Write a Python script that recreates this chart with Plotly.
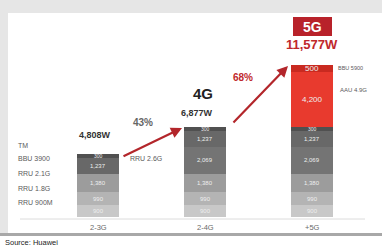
import plotly.graph_objects as go

categories = ["2-3G", "2-4G", "+5G"]
totals = ["4,808W", "6,877W", "11,577W"]
rru900_b = [900, 900, 900]
rru900_a = [990, 990, 990]
rru18 = [1380, 1380, 1380]
rru26 = [0, 2069, 2069]
rru21 = [1237, 1237, 1237]
bbu = [300, 300, 300]
aau = [0, 0, 4200]
bbu5900 = [0, 0, 500]
legend_labels = ["TM", "BBU 3900", "RRU 2.1G", "RRU 1.8G", "RRU 900M"]
growth = ["43%", "68%"]

W, H = 382, 248
BASE = 217
SCALE = 152 / 11577.0
YMAX = BASE / SCALE
xc = [98, 206, 312]
b = 107.0
a = 98.0
XR = [-a / b, (W - a) / b]

def py(p):
    return (BASE - p) / BASE

def px(x):
    return x / W

FONT = "Arial, Liberation Sans, sans-serif"
xs = [0, 1, 2]

series = [
    (rru900_b, "#c8c8c8", 6),
    (rru900_a, "#b4b4b4", 6),
    (rru18, "#9c9c9c", 6),
    (rru26, "#747474", 6),
    (rru21, "#686868", 6),
    (bbu, "#505050", 5),
    (aau, "#e83a2e", 8),
    (bbu5900, "#c92a20", 8),
]

fig = go.Figure()
ann = []
cum = [0, 0, 0]
for vals, col, fs in series:
    fig.add_trace(go.Bar(
        x=xs, y=vals, marker=dict(color=col, line=dict(width=0)),
        width=0.40, hoverinfo="skip", showlegend=False,
    ))
    for i, v in enumerate(vals):
        if v:
            ann.append(dict(x=xs[i], y=cum[i] + v / 2, xref="x", yref="y", text=f"{v:,}",
                            showarrow=False, font=dict(size=fs, color="#eeeeee", family=FONT),
                            xanchor="center", yanchor="middle"))
            cum[i] += v

shapes = [
    dict(type="rect", xref="paper", yref="paper", x0=0, x1=1, y0=py(13), y1=py(0),
         fillcolor="#e6e6e6", line=dict(width=0), layer="below"),
    dict(type="rect", xref="paper", yref="paper", x0=0, x1=px(8), y0=py(233), y1=py(0),
         fillcolor="#e6e6e6", line=dict(width=0), layer="below"),
    dict(type="line", xref="paper", yref="paper", x0=px(20), x1=px(365), y0=py(219), y1=py(219),
         line=dict(color="#dcdcdc", width=1)),
    dict(type="rect", xref="paper", yref="paper", x0=0, x1=1, y0=py(236), y1=py(233),
         fillcolor="#a8a8a8", line=dict(width=0)),
    dict(type="rect", xref="paper", yref="paper", x0=px(293), x1=px(332), y0=py(36), y1=py(17),
         fillcolor="#b8222a", line=dict(width=0)),
]

def txt(x, y, s, size, color, bold=False, anchor="center"):
    ann.append(dict(xref="paper", yref="paper", x=px(x), y=py(y), text=(f"<b>{s}</b>" if bold else s),
                    showarrow=False, xanchor=anchor, yanchor="middle",
                    font=dict(size=size, color=color, family=FONT)))

for lab, yy in zip(legend_labels, [145, 158, 173, 188, 202]):
    txt(16, yy, lab, 7, "#5a5a5a", anchor="left")
txt(128, 158, "RRU 2.6G", 7, "#5a5a5a", anchor="left")
txt(336, 68, "BBU 5900", 5.5, "#5a5a5a", anchor="left")
txt(338, 90, "AAU 4.9G", 6, "#5a5a5a", anchor="left")

for x, c in zip(xc, categories):
    txt(x, 227, c, 7.5, "#6a6a6a")

txt(95, 135, totals[0], 9, "#333333", bold=True)
txt(197, 113, totals[1], 9, "#333333", bold=True)
txt(312, 44, totals[2], 13, "#c0282c", bold=True)
txt(203, 93, "4G", 15, "#222222", bold=True)
txt(312, 27, "5G", 14, "#ffffff", bold=True)
txt(143, 122, growth[0], 10, "#666666", bold=True)
txt(243, 77, growth[1], 10, "#c0282c", bold=True)
txt(3, 242, "Source: Huawei", 7.5, "#222222", anchor="left")

for (hx, hy, tx, ty) in [(182, 128, 122, 157), (288, 66, 232, 124)]:
    ann.append(dict(xref="paper", yref="paper", x=px(hx), y=py(hy), ax=tx - hx, ay=ty - hy,
                    axref="pixel", ayref="pixel", showarrow=True, arrowhead=2, arrowsize=1,
                    arrowwidth=2.2, arrowcolor="#b3262b", text=""))

fig.update_layout(
    width=W, height=H, margin=dict(l=0, r=0, t=0, b=H - BASE),
    barmode="stack", bargap=0, plot_bgcolor="white", paper_bgcolor="white",
    xaxis=dict(range=XR, visible=False, fixedrange=True),
    yaxis=dict(range=[0, YMAX], visible=False, fixedrange=True),
    shapes=shapes, annotations=ann,
)
fig.write_html("out.html", config={"displayModeBar": False},
               post_script="document.body.style.margin='0';document.body.style.overflow='hidden';")
